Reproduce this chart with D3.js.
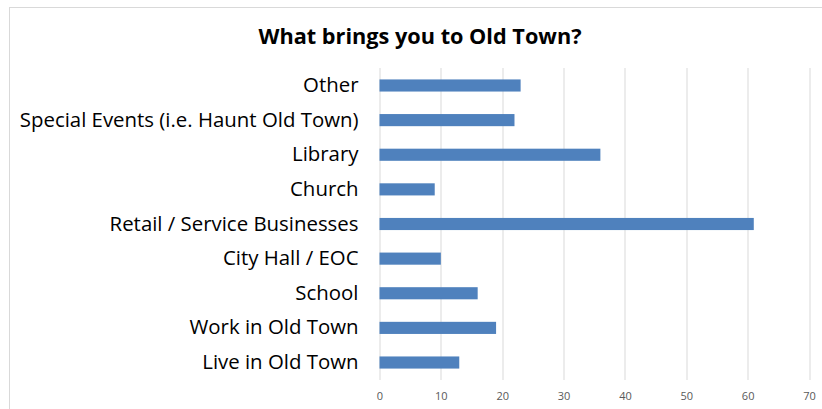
<!DOCTYPE html>
<meta charset="utf-8">
<style>
  html, body { margin: 0; background: #fff; }
  .tick text { font-family: "Open Sans", sans-serif; }
</style>
<body>
<script src="https://cdn.jsdelivr.net/npm/d3@7"></script>
<script>
  // chart data, bottom to top as in the picture
  var categories = ["Live in Old Town", "Work in Old Town", "School", "City Hall / EOC",
    "Retail / Service Businesses", "Church", "Library",
    "Special Events (i.e. Haunt Old Town)", "Other"];
  var counts = [13, 19, 16, 10, 61, 9, 36, 22, 23];
  var xTicks = [0, 10, 20, 30, 40, 50, 60, 70];

  var W = 822, H = 409;
  var margin = { top: 68, right: 13, bottom: 29, left: 379.5 };
  var width = W - margin.left - margin.right,
    height = H - margin.top - margin.bottom;

  var svg = d3.select("body").append("svg")
    .attr("width", W)
    .attr("height", H);

  // outer chart border
  svg.append("rect")
    .attr("x", 9.5).attr("y", 7.5)
    .attr("width", W).attr("height", H)
    .attr("fill", "none")
    .attr("stroke", "#d9d9d9");

  svg.append("text")
    .attr("x", 420)
    .attr("y", 44)
    .attr("text-anchor", "middle")
    .style("font-family", "'Open Sans', sans-serif")
    .style("font-weight", "bold")
    .style("font-size", "21.7px")
    .text("What brings you to Old Town?");

  var g = svg.append("g")
    .attr("transform", "translate(" + margin.left + "," + margin.top + ")");

  var x = d3.scaleLinear().domain([0, 70]).range([0, width]);
  var y = d3.scaleBand()
    .domain(categories.slice().reverse())
    .range([0, height])
    .paddingInner(0.65)
    .paddingOuter(0.33);

  // vertical grid lines
  g.append("g")
    .selectAll("line")
    .data(xTicks)
    .enter().append("line")
    .attr("x1", function (d) { return Math.round(x(d)) + 0.5; })
    .attr("x2", function (d) { return Math.round(x(d)) + 0.5; })
    .attr("y1", 0)
    .attr("y2", height)
    .attr("stroke", "#d9d9d9");

  g.selectAll(".bar")
    .data(counts)
    .enter().append("rect")
    .attr("class", "bar")
    .attr("x", x(0))
    .attr("y", function (d, i) { return y(categories[i]); })
    .attr("width", function (d) { return x(d) - x(0); })
    .attr("height", y.bandwidth())
    .attr("fill", "#4f81bd");

  // x axis (labels only)
  var gx = g.append("g")
    .attr("transform", "translate(0," + height + ")")
    .call(d3.axisBottom(x).tickValues(xTicks).tickSize(0).tickPadding(12));
  gx.select(".domain").remove();
  gx.selectAll("text")
    .style("font-size", "11px")
    .attr("fill", "#595959");

  // y axis (category labels)
  var gy = g.append("g")
    .call(d3.axisLeft(y).tickSize(0).tickPadding(21));
  gy.select(".domain").remove();
  gy.selectAll("text")
    .style("font-size", "20.4px")
    .attr("fill", "#000");
</script>
</body>
